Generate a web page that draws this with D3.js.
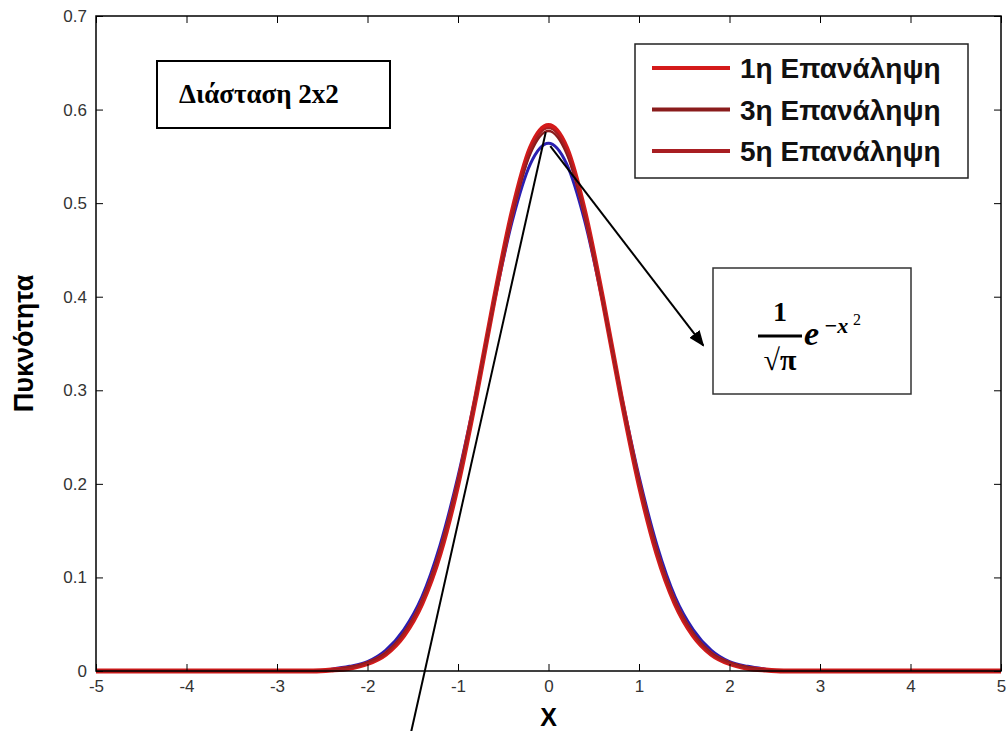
<!DOCTYPE html>
<html>
<head>
  <script src="https://d3js.org/d3.v7.min.js"></script>
  <style>
    body { margin: 0; background: #fff; }
    text { font-family: Arial, "Liberation Sans", sans-serif; }
  </style>
</head>
<body>
<div id="chart"></div>
<script>
// data ------------------------------------------------------------------
const xTicks = [-5, -4, -3, -2, -1, 0, 1, 2, 3, 4, 5];
const yTicks = [0, 0.1, 0.2, 0.3, 0.4, 0.5, 0.6, 0.7];
const yTickLabels = ['0', '0.1', '0.2', '0.3', '0.4', '0.5', '0.6', '0.7'];

const seriesNames = ['1η Επανάληψη', '3η Επανάληψη', '5η Επανάληψη'];
const seriesColors = ['#d41a1a', '#8a1c1c', '#a81e22'];

// x positions of the sampled points
const xRed = [-5, -4, -3, -2.6, -2.4, -2.2, -2.0, -1.8, -1.6, -1.4, -1.2, -1.0, -0.8, -0.6, -0.4, -0.2, 0,
  0.2, 0.4, 0.6, 0.8, 1.0, 1.2, 1.4, 1.6, 1.8, 2.0, 2.2, 2.4, 2.6, 3, 4, 5];
const rep1 = [0, 0, 0, 0, 0.001, 0.003, 0.008, 0.018, 0.038, 0.072, 0.125, 0.200, 0.294, 0.397, 0.491, 0.559, 0.583,
  0.559, 0.491, 0.397, 0.294, 0.200, 0.125, 0.072, 0.038, 0.018, 0.008, 0.003, 0.001, 0, 0, 0, 0];
const rep3 = [0, 0, 0, 0, 0.001, 0.004, 0.009, 0.019, 0.040, 0.074, 0.128, 0.203, 0.295, 0.396, 0.488, 0.553, 0.577,
  0.553, 0.488, 0.396, 0.295, 0.203, 0.128, 0.074, 0.040, 0.019, 0.009, 0.004, 0.001, 0, 0, 0, 0];
const rep5 = [0, 0, 0, 0, 0.001, 0.003, 0.008, 0.018, 0.039, 0.073, 0.126, 0.201, 0.294, 0.397, 0.490, 0.557, 0.580,
  0.557, 0.490, 0.397, 0.294, 0.201, 0.126, 0.073, 0.039, 0.018, 0.008, 0.003, 0.001, 0, 0, 0, 0];

// theoretical curve (blue)
const xBlue = [-2.4, -2.2, -2.0, -1.8, -1.6, -1.4, -1.2, -1.0, -0.8, -0.6, -0.4, -0.2, 0,
  0.2, 0.4, 0.6, 0.8, 1.0, 1.2, 1.4, 1.6, 1.8, 2.0, 2.2, 2.4];
const theory = [0.002, 0.005, 0.010, 0.022, 0.044, 0.079, 0.134, 0.208, 0.297, 0.394, 0.481, 0.542, 0.564,
  0.542, 0.481, 0.394, 0.297, 0.208, 0.134, 0.079, 0.044, 0.022, 0.010, 0.005, 0.002];

// ----------------------------------------------------------------------
const width = 1008, height = 731;
const svg = d3.select('#chart').append('svg')
  .attr('width', width)
  .attr('height', height);

const x = d3.scaleLinear().domain([-5, 5]).range([96, 1001]);
const y = d3.scaleLinear().domain([0, 0.7]).range([671, 16]);

const line = d3.line()
  .x(d => x(d[0]))
  .y(d => y(d[1]))
  .curve(d3.curveMonotoneX);

// curves
svg.append('path')
  .datum(d3.zip(xBlue, theory))
  .attr('d', line)
  .attr('fill', 'none')
  .attr('stroke', '#2a1fb0')
  .attr('stroke-width', 3);

const reps = [rep1, rep3, rep5];
const widths = [5, 2.5, 2];
reps.forEach((vals, i) => {
  svg.append('path')
    .datum(d3.zip(xRed, vals))
    .attr('d', line)
    .attr('fill', 'none')
    .attr('stroke', seriesColors[i])
    .attr('stroke-width', widths[i]);
});

// axes, MATLAB style with inward ticks
const tickStyle = g => {
  g.select('.domain').remove();
  g.selectAll('.tick line').attr('stroke', '#000');
  g.selectAll('.tick text')
    .attr('fill', '#333')
    .style('font-size', '17px')
    .style('font-family', 'Arial, sans-serif');
};

svg.append('g')
  .attr('transform', `translate(0,${y(0)})`)
  .call(d3.axisBottom(x).tickValues(xTicks).tickSize(-7).tickPadding(9).tickFormat(d => String(d)))
  .call(tickStyle);

svg.append('g')
  .attr('transform', `translate(0,${y(0.7)})`)
  .call(d3.axisTop(x).tickValues(xTicks).tickSize(-7).tickFormat(''))
  .call(tickStyle);

svg.append('g')
  .attr('transform', `translate(${x(-5)},0)`)
  .call(d3.axisLeft(y).tickValues(yTicks).tickSize(-7).tickPadding(9)
    .tickFormat((d, i) => yTickLabels[i]))
  .call(tickStyle);

svg.append('g')
  .attr('transform', `translate(${x(5)},0)`)
  .call(d3.axisRight(y).tickValues(yTicks).tickSize(-7).tickFormat(''))
  .call(tickStyle);

// box round the axes
svg.append('rect')
  .attr('x', x(-5))
  .attr('y', y(0.7))
  .attr('width', x(5) - x(-5))
  .attr('height', y(0) - y(0.7))
  .attr('fill', 'none')
  .attr('stroke', '#000')
  .attr('stroke-width', 1.5);

// axis titles
svg.append('text')
  .attr('x', x(0))
  .attr('y', 726)
  .attr('text-anchor', 'middle')
  .style('font-size', '25px')
  .style('font-weight', 'bold')
  .text('X');

svg.append('text')
  .attr('transform', `translate(33,${y(0.35)}) rotate(-90)`)
  .attr('text-anchor', 'middle')
  .style('font-size', '27px')
  .style('font-weight', 'bold')
  .text('Πυκνότητα');

// legend
const legend = svg.append('g');
legend.append('rect')
  .attr('x', 635).attr('y', 44)
  .attr('width', 333).attr('height', 134)
  .attr('fill', '#fff')
  .attr('stroke', '#222')
  .attr('stroke-width', 1.5);

seriesNames.forEach((name, i) => {
  const ly = 68 + i * 41.5;
  legend.append('line')
    .attr('x1', 652).attr('x2', 730)
    .attr('y1', ly).attr('y2', ly)
    .attr('stroke', seriesColors[i])
    .attr('stroke-width', 4);
  legend.append('text')
    .attr('x', 740).attr('y', ly + 10)
    .style('font-size', '28px')
    .style('font-weight', 'bold')
    .attr('fill', '#111')
    .text(name);
});

// "Διάσταση 2x2" box
svg.append('rect')
  .attr('x', 157).attr('y', 61)
  .attr('width', 233).attr('height', 67)
  .attr('fill', '#fff')
  .attr('stroke', '#000')
  .attr('stroke-width', 2);
svg.append('text')
  .attr('x', 179).attr('y', 103)
  .style('font-family', '"Liberation Serif", "DejaVu Serif", serif')
  .style('font-size', '27px')
  .style('font-weight', 'bold')
  .text('Διάσταση 2x2');

// formula box
svg.append('rect')
  .attr('x', 713).attr('y', 268)
  .attr('width', 198).attr('height', 126)
  .attr('fill', '#fff')
  .attr('stroke', '#333')
  .attr('stroke-width', 1.5);

const serif = '"Liberation Serif", "DejaVu Serif", serif';
svg.append('text')
  .attr('x', 780).attr('y', 321)
  .attr('text-anchor', 'middle')
  .style('font-family', serif)
  .style('font-size', '28px')
  .style('font-weight', 'bold')
  .text('1');
svg.append('line')
  .attr('x1', 758).attr('x2', 802)
  .attr('y1', 336).attr('y2', 336)
  .attr('stroke', '#000')
  .attr('stroke-width', 3);
svg.append('text')
  .attr('x', 780).attr('y', 370)
  .attr('text-anchor', 'middle')
  .style('font-family', serif)
  .style('font-size', '30px')
  .style('font-weight', 'bold')
  .text('√π');
svg.append('text')
  .attr('x', 804).attr('y', 345)
  .style('font-family', serif)
  .style('font-size', '34px')
  .style('font-weight', 'bold')
  .style('font-style', 'italic')
  .text('e');
svg.append('text')
  .attr('x', 824).attr('y', 333)
  .style('font-family', serif)
  .style('font-size', '22px')
  .style('font-weight', 'bold')
  .style('font-style', 'italic')
  .text('−x');
svg.append('text')
  .attr('x', 853).attr('y', 325)
  .style('font-family', serif)
  .style('font-size', '16px')
  .text('2');

// annotation lines (data units)
svg.append('defs').append('marker')
  .attr('id', 'arrow')
  .attr('viewBox', '0 0 10 10')
  .attr('refX', 9).attr('refY', 5)
  .attr('markerWidth', 8).attr('markerHeight', 8)
  .attr('orient', 'auto')
  .append('path')
  .attr('d', 'M0,1 L10,5 L0,9 Z')
  .attr('fill', '#000');

svg.append('line')
  .attr('x1', x(-0.03)).attr('y1', y(0.576))
  .attr('x2', x(-1.52)).attr('y2', y(-0.066))
  .attr('stroke', '#000')
  .attr('stroke-width', 2);

svg.append('line')
  .attr('x1', x(0.02)).attr('y1', y(0.561))
  .attr('x2', x(1.71)).attr('y2', y(0.348))
  .attr('stroke', '#000')
  .attr('stroke-width', 2)
  .attr('marker-end', 'url(#arrow)');
</script>
</body>
</html>
